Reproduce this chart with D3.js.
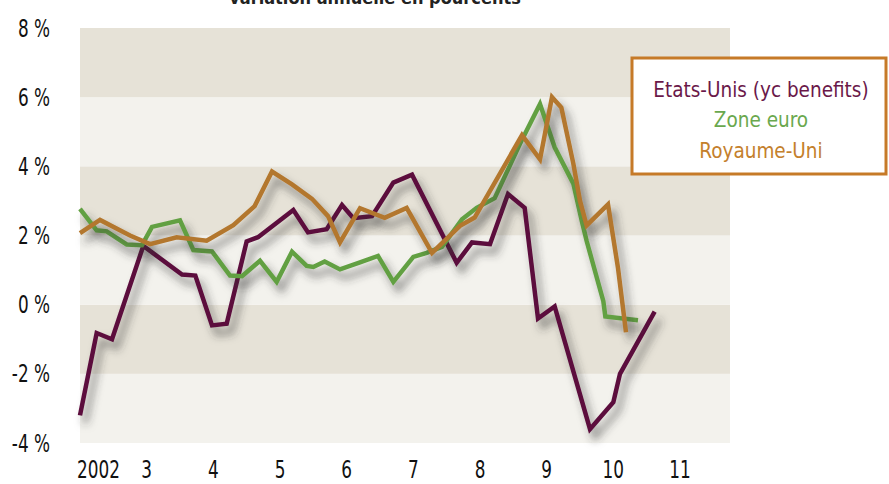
<!DOCTYPE html>
<html>
<head>
<meta charset="utf-8">
<script src="https://cdn.jsdelivr.net/npm/d3@7"></script>
<style>
  body { margin: 0; background: #fff; }
  svg { display: block; }
  .tick-label { font-family: "DejaVu Sans Condensed", "DejaVu Sans", sans-serif; font-size: 24px; fill: #111; }
  .legend text { font-family: "DejaVu Sans Condensed", "DejaVu Sans", sans-serif; font-size: 20.5px; }
</style>
</head>
<body>
<div id="chart"></div>
<script>
// annual change, in percent (dates as decimal years)
var usDates   = [2002.00, 2002.25, 2002.48, 2002.95, 2003.53, 2003.73, 2003.98, 2004.20, 2004.50, 2004.67,
                 2005.20, 2005.42, 2005.70, 2005.93, 2006.10, 2006.38, 2006.70, 2006.98, 2007.65, 2007.88,
                 2008.15, 2008.42, 2008.67, 2008.87, 2009.12, 2009.65, 2010.00, 2010.10, 2010.62];
var usValues  = [-3.2, -0.82, -1.0, 1.7, 0.87, 0.84, -0.6, -0.55, 1.83, 1.95,
                 2.74, 2.09, 2.18, 2.88, 2.5, 2.56, 3.53, 3.76, 1.21, 1.8,
                 1.75, 3.2, 2.8, -0.4, -0.05, -3.6, -2.82, -2.0, -0.2];

var euroDates  = [2002.00, 2002.25, 2002.40, 2002.70, 2002.93, 2003.08, 2003.50, 2003.70, 2003.98, 2004.25,
                  2004.43, 2004.70, 2004.95, 2005.18, 2005.40, 2005.50, 2005.67, 2005.90, 2006.20, 2006.47,
                  2006.70, 2007.00, 2007.20, 2007.43, 2007.73, 2007.95, 2008.22, 2008.60, 2008.90, 2009.12,
                  2009.40, 2009.53, 2009.60, 2009.85, 2009.88, 2010.37];
var euroValues = [2.77, 2.15, 2.12, 1.74, 1.72, 2.25, 2.44, 1.58, 1.54, 0.84,
                  0.82, 1.27, 0.66, 1.53, 1.12, 1.09, 1.25, 1.02, 1.22, 1.41,
                  0.66, 1.38, 1.5, 1.67, 2.47, 2.8, 3.08, 4.65, 5.8, 4.55,
                  3.5, 2.4, 1.84, 0.1, -0.34, -0.45];

var ukDates   = [2002.00, 2002.30, 2002.75, 2003.05, 2003.45, 2003.90, 2004.30, 2004.62, 2004.88, 2005.18,
                 2005.48, 2005.72, 2005.90, 2006.20, 2006.57, 2006.90, 2007.28, 2007.70, 2007.92, 2008.63,
                 2008.90, 2009.08, 2009.22, 2009.40, 2009.50, 2009.60, 2009.92, 2010.07, 2010.19];
var ukValues  = [2.07, 2.45, 2.0, 1.75, 1.95, 1.85, 2.3, 2.85, 3.85, 3.48,
                 3.06, 2.56, 1.8, 2.79, 2.51, 2.8, 1.5, 2.28, 2.52, 4.9,
                 4.2, 6.0, 5.7, 4.08, 3.0, 2.29, 2.9, 1.06, -0.8];

var seriesNames  = ["Etats-Unis (yc benefits)", "Zone euro", "Royaume-Uni"];
var seriesColors = ["#5c0e3e", "#62a043", "#b3772d"];
var legendColors = ["#6a1849", "#6aa84e", "#c4802c"];

var yearTicks  = [2002, 2003, 2004, 2005, 2006, 2007, 2008, 2009, 2010, 2011];
var yearLabels = ["2002", "3", "4", "5", "6", "7", "8", "9", "10", "11"];
var yTicks     = [-4, -2, 0, 2, 4, 6, 8];

var chartTitle = "variation annuelle en pourcents";

var viewboxwidth = 889, viewboxheight = 484;
var plot = {left: 80, right: 730, top: 28, bottom: 443};

var svg = d3.select("#chart")
    .append("svg")
    .attr("width", viewboxwidth)
    .attr("height", viewboxheight);

// drop shadow for the lines
var defs = svg.append("defs");
var f = defs.append("filter")
    .attr("id", "shadow")
    .attr("x", "-10%").attr("y", "-10%")
    .attr("width", "130%").attr("height", "130%");
f.append("feGaussianBlur").attr("in", "SourceAlpha").attr("stdDeviation", 4).attr("result", "blur");
f.append("feOffset").attr("in", "blur").attr("dx", 5).attr("dy", 8).attr("result", "off");
f.append("feFlood").attr("flood-color", "#333").attr("flood-opacity", 0.6).attr("result", "col");
f.append("feComposite").attr("in", "col").attr("in2", "off").attr("operator", "in").attr("result", "sh");
var merge = f.append("feMerge");
merge.append("feMergeNode").attr("in", "sh");
merge.append("feMergeNode").attr("in", "SourceGraphic");

var x = d3.scaleLinear()
    .domain([2002, 2011.75])
    .range([plot.left, plot.right]);

var y = d3.scaleLinear()
    .domain([-4, 8])
    .range([plot.bottom, plot.top]);

// alternating horizontal bands
var bands = d3.range(yTicks.length - 1).map(function(i) {
    return {lo: yTicks[i], hi: yTicks[i + 1]};
});
svg.append("g")
    .selectAll("rect")
    .data(bands)
    .enter()
    .append("rect")
      .attr("x", x(2002))
      .attr("width", x(2011.75) - x(2002))
      .attr("y", function(d) { return y(d.hi); })
      .attr("height", function(d) { return y(d.lo) - y(d.hi); })
      .style("fill", function(d) { return (d.hi / 2) % 2 === 0 ? "#e6e2d7" : "#f3f2ed"; });

// title (cut by the top edge, as in the source)
svg.append("text")
    .attr("x", 375)
    .attr("y", 4)
    .attr("text-anchor", "middle")
    .style("font-family", "'DejaVu Sans Condensed', 'DejaVu Sans', sans-serif")
    .style("font-weight", "bold")
    .style("font-size", "18px")
    .style("fill", "#222")
    .text(chartTitle);

// y labels
svg.append("g")
    .selectAll("text")
    .data(yTicks)
    .enter()
    .append("text")
      .attr("class", "tick-label")
      .attr("x", 50)
      .attr("y", function(d) { return y(d); })
      .attr("dy", "0.36em")
      .attr("text-anchor", "end")
      .text(function(d) { return d + " %"; });

// x labels
svg.append("g")
    .selectAll("text")
    .data(yearTicks)
    .enter()
    .append("text")
      .attr("class", "tick-label")
      .attr("x", function(d, i) { return i === 0 ? x(d) - 3 : x(d); })
      .attr("y", 478)
      .attr("text-anchor", function(d, i) { return i === 0 ? "start" : "middle"; })
      .text(function(d, i) { return yearLabels[i]; });

// narrow the tick labels (source font is condensed)
svg.selectAll(".tick-label").each(function() {
    var len = this.getComputedTextLength();
    d3.select(this)
        .attr("textLength", len * 0.78)
        .attr("lengthAdjust", "spacingAndGlyphs");
});

// lines
var series = [
    {dates: usDates, values: usValues},
    {dates: euroDates, values: euroValues},
    {dates: ukDates, values: ukValues}
];

var line = d3.line()
    .x(function(d) { return x(d[0]); })
    .y(function(d) { return y(d[1]); });

svg.append("g")
    .selectAll("path")
    .data(series)
    .enter()
    .append("path")
      .attr("d", function(s) { return line(d3.zip(s.dates, s.values)); })
      .attr("filter", "url(#shadow)")
      .style("fill", "none")
      .style("stroke", function(s, i) { return seriesColors[i]; })
      .style("stroke-width", 4.5)
      .style("stroke-linejoin", "miter");

// legend box
var legend = svg.append("g").attr("class", "legend");
legend.append("rect")
    .attr("x", 632)
    .attr("y", 58)
    .attr("width", 254)
    .attr("height", 116)
    .style("fill", "#fff")
    .style("stroke", "#c67a28")
    .style("stroke-width", 3);

legend.selectAll("text")
    .data(seriesNames)
    .enter()
    .append("text")
      .attr("x", 761)
      .attr("y", function(d, i) { return [97, 127, 158][i]; })
      .attr("text-anchor", "middle")
      .style("fill", function(d, i) { return legendColors[i]; })
      .text(function(d) { return d; });
</script>
</body>
</html>
